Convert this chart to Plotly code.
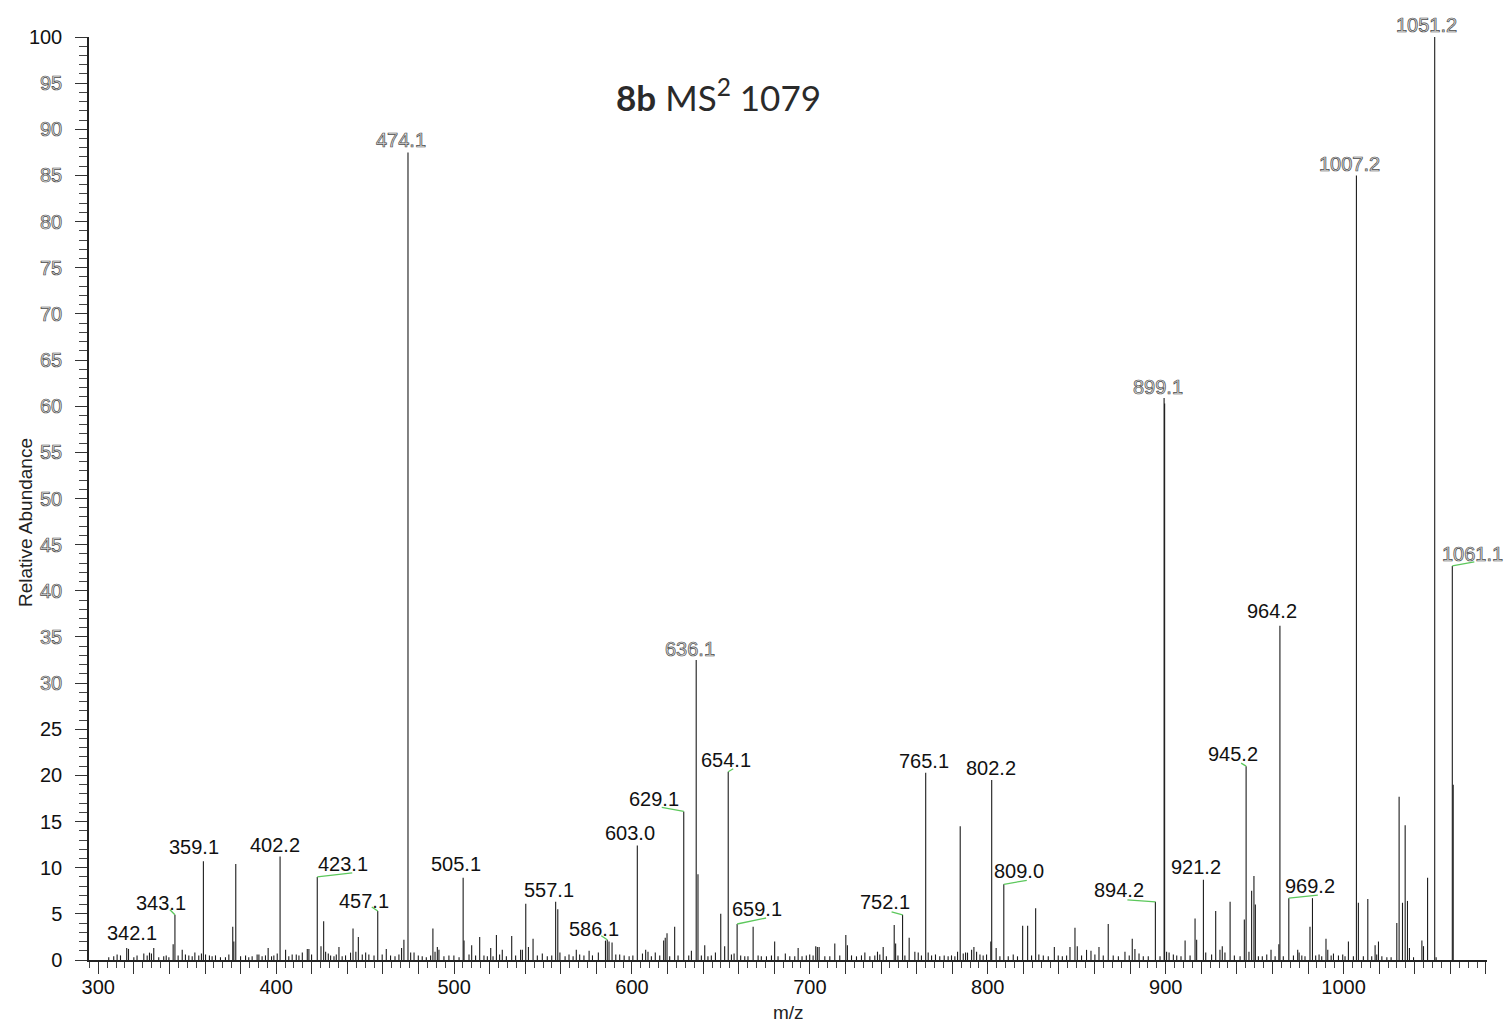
import plotly.graph_objects as go

# ---- spectrum data: MS2 of m/z 1079 (compound 8b) ----
# annotated fragment ions
label_mz = [342.1, 343.1, 359.1, 402.2, 423.1, 457.1, 474.1, 505.1, 557.1, 586.1,
            603.0, 629.1, 636.1, 654.1, 659.1, 752.1, 765.1, 802.2, 809.0, 894.2,
            899.1, 921.2, 945.2, 964.2, 969.2, 1007.2, 1051.2, 1061.1]
label_int = [1.7, 4.9, 10.7, 11.2, 9.0, 5.3, 87.5, 8.9, 6.3, 2.2,
             12.4, 16.1, 32.5, 20.4, 3.9, 4.9, 20.3, 19.5, 8.2, 6.3,
             60.9, 8.7, 21.0, 36.2, 6.7, 85.0, 100.0, 42.7]

# remaining centroided peaks
other_mz = [
    305.9, 308.7, 310.6, 312.5, 316.0, 317.0, 320.0, 321.8, 325.6, 327.5, 328.8, 329.9,
    331.2, 334.0, 336.8, 338.2, 339.7, 344.9, 347.2, 349.0, 350.9, 352.8, 354.3, 356.5,
    358.0, 360.3, 362.5, 364.0, 365.9, 368.7, 371.5, 373.4, 375.6, 376.2, 377.3, 380.0,
    382.8, 384.6, 386.5, 389.3, 390.3, 392.1, 394.0, 395.5, 397.4, 398.7, 400.6, 405.3,
    407.1, 409.0, 411.3, 412.8, 414.7, 417.5, 418.4, 419.9, 425.2, 426.7, 427.8, 429.3,
    430.6, 432.5, 433.8, 435.3, 437.1, 439.0, 441.8, 443.2, 444.8, 446.2, 448.4, 450.3,
    452.1, 455.0,
    459.6, 461.9, 464.3, 466.8, 469.0, 470.5, 471.8, 475.6, 477.5, 479.9, 482.1, 484.4,
    486.8, 488.1, 489.3, 490.6, 491.5, 494.3, 497.1, 499.9, 502.8, 505.6, 508.4, 509.9,
    512.1, 514.4, 516.8, 518.7, 520.6, 521.9, 523.8, 525.6, 527.1, 529.4, 532.4, 534.6,
    537.4, 538.4, 540.3, 541.8, 544.4, 546.8, 549.6, 552.4, 554.9, 558.3, 559.5, 562.4,
    564.6, 566.9, 568.7, 570.6, 573.0, 575.9, 577.8, 581.1, 585.1, 587.1, 588.8, 590.9,
    593.1, 595.6, 598.4, 600.5, 605.9, 607.7,
    609.0, 610.9, 613.1, 615.6, 617.8, 618.7, 619.7, 621.2, 624.0, 625.9, 631.9, 633.4,
    637.1, 639.0, 640.9, 642.7, 644.6, 646.9, 649.9, 652.1, 655.9, 657.4, 661.1, 663.4,
    665.2, 668.1, 670.9, 672.7, 675.6, 678.4, 680.2, 682.1, 686.2, 688.7, 691.5, 693.4,
    695.6, 698.0, 699.9, 701.8, 703.3, 704.2, 705.2, 708.4, 711.2, 714.0, 716.8, 720.2,
    721.1, 723.4, 726.2, 729.0, 730.9, 733.7, 736.5, 738.0, 739.3, 741.2, 743.0, 747.4,
    748.2, 749.5, 753.4, 755.8, 759.0, 760.9, 762.7,
    766.5, 768.4, 770.6, 773.0, 775.5, 777.7, 779.6, 781.5, 783.0, 784.5, 786.2, 787.5,
    788.6, 790.9, 792.2, 793.7, 795.6, 797.4, 799.3, 801.7, 804.7, 806.8, 811.5, 814.3,
    816.7, 819.6, 822.4, 824.6, 826.9, 828.7, 831.2, 834.0, 837.4, 839.6, 841.9, 844.3,
    846.2, 849.0, 850.3, 852.7, 855.5, 858.0, 860.2, 862.5, 864.9, 867.7, 870.5, 873.4,
    877.1, 879.5, 881.2, 882.7, 885.0, 887.4, 890.2, 896.8, 899.4, 900.5, 901.9, 904.3,
    906.2, 908.6, 910.9, 913.7, 916.5, 917.4, 922.5,
    925.8, 928.1, 930.5, 931.8, 933.3, 936.2, 938.6, 941.8, 944.2, 946.8, 948.3, 949.6,
    950.4, 952.1, 954.3, 956.8, 959.2, 961.5, 963.6, 966.1, 971.8, 974.2, 975.0, 976.5,
    978.3, 981.1, 982.5, 984.3, 986.2, 987.7, 990.1, 991.1, 993.0, 994.3, 997.1, 999.5,
    1000.8, 1002.7, 1005.5, 1008.3, 1011.1, 1013.6, 1015.8, 1017.7, 1018.6, 1019.6,
    1021.5, 1024.3, 1026.7, 1029.9, 1031.2, 1033.1, 1034.6, 1035.9, 1037.0, 1039.3,
    1044.0, 1044.9, 1047.2, 1052.0, 1061.6,
]
other_int = [
    0.3, 0.4, 0.6, 0.5, 1.3, 1.2, 0.3, 0.5, 0.7, 0.5, 0.8, 0.7,
    1.3, 0.3, 0.4, 0.5, 0.3, 0.5, 1.1, 0.6, 0.5, 0.4, 0.8, 0.5,
    0.7, 0.6, 0.5, 0.4, 0.5, 0.3, 0.3, 0.6, 3.6, 2.0, 10.4, 0.4,
    0.5, 0.3, 0.4, 0.6, 0.6, 0.4, 0.5, 1.3, 0.4, 0.5, 0.7, 1.1,
    0.4, 0.6, 0.6, 0.5, 0.8, 1.2, 1.2, 0.6, 1.5, 4.2, 0.9, 0.7,
    0.5, 0.4, 0.6, 1.4, 0.4, 0.5, 0.8, 3.4, 0.9, 2.5, 0.6, 0.8,
    0.6, 0.5,
    0.6, 1.2, 0.5, 0.4, 0.6, 1.3, 2.2, 0.8, 0.8, 0.5, 0.4, 0.3,
    0.5, 3.4, 0.9, 1.4, 1.1, 0.4, 0.5, 0.5, 0.3, 2.1, 0.6, 1.6,
    0.5, 2.5, 0.5, 0.4, 1.3, 0.4, 2.7, 0.6, 1.1, 0.4, 2.6, 0.5,
    1.1, 1.1, 6.1, 1.4, 2.3, 0.5, 0.7, 0.4, 0.5, 5.5, 0.8, 0.4,
    0.6, 0.4, 1.1, 0.6, 0.5, 1.0, 0.5, 0.8, 2.1, 2.0, 1.9, 0.6,
    0.6, 0.5, 0.4, 0.5, 0.7, 1.1,
    0.9, 0.4, 0.8, 0.5, 2.1, 2.4, 2.9, 0.4, 3.6, 0.5, 0.5, 1.0,
    9.3, 0.5, 1.6, 0.4, 0.5, 0.8, 5.0, 1.5, 0.6, 0.7, 0.5, 0.4,
    0.4, 3.6, 0.5, 0.4, 0.4, 0.5, 2.0, 0.4, 0.7, 0.4, 0.4, 1.3,
    0.4, 0.5, 0.6, 0.5, 1.5, 1.4, 1.4, 0.4, 0.4, 1.8, 0.5, 2.7,
    1.6, 0.5, 0.4, 0.5, 0.8, 0.4, 0.5, 0.9, 0.6, 1.4, 0.4, 3.8,
    1.8, 0.5, 0.5, 2.4, 0.9, 0.8, 0.5,
    0.8, 0.5, 0.6, 0.4, 0.5, 0.4, 0.5, 0.4, 0.9, 14.5, 0.7, 0.8,
    0.8, 1.1, 1.4, 0.9, 0.6, 0.5, 0.6, 2.0, 1.3, 0.4, 0.4, 0.6,
    0.4, 3.7, 3.7, 0.5, 5.6, 0.6, 0.5, 0.4, 1.4, 0.5, 0.4, 0.5,
    1.4, 3.5, 1.5, 0.5, 1.1, 1.0, 0.6, 1.4, 0.5, 3.9, 0.5, 0.4,
    0.9, 0.5, 2.3, 1.2, 0.7, 0.4, 0.4, 0.4, 60.3, 0.9, 0.8, 0.6,
    0.5, 0.4, 2.1, 0.5, 4.5, 2.2, 0.8,
    0.6, 5.3, 1.1, 1.5, 0.8, 6.3, 0.5, 0.4, 4.4, 0.9, 7.5, 9.1,
    6.0, 0.4, 0.4, 0.6, 1.1, 0.4, 1.7, 0.4, 0.5, 1.1, 0.8, 0.5,
    0.4, 3.6, 6.7, 0.5, 0.6, 0.4, 2.3, 1.1, 0.5, 0.7, 0.5, 0.6,
    0.4, 2.0, 0.4, 6.2, 0.4, 6.6, 0.4, 1.6, 0.6, 2.0,
    0.4, 0.3, 0.3, 4.0, 17.7, 6.2, 14.6, 6.4, 1.3, 0.3,
    2.1, 1.5, 8.9, 0.3, 19.0,
]

# axis ticks
x_tickvals = list(range(300, 1081, 20))
x_ticktext = [str(v) if v % 100 == 0 else "" for v in x_tickvals]
y_tickvals = list(range(0, 101, 5))

# ---- label placement (pixel offsets of the label centre from the peak top,
#      optional green leader line end point, outlined glyph style) ----
label_style = {
    "342.1": dict(dx=-41, dy=11),
    "343.1": dict(dx=-14, dy=12, lead=(-5, 5)),
    "359.1": dict(dx=-9, dy=14),
    "402.2": dict(dx=-5, dy=12),
    "423.1": dict(dx=26, dy=13, lead=(35, 4)),
    "457.1": dict(dx=-14, dy=10, lead=(-6, 4)),
    "474.1": dict(dx=-7, dy=12, outline=True),
    "505.1": dict(dx=-7, dy=14),
    "557.1": dict(dx=-7, dy=12),
    "586.1": dict(dx=-13, dy=11, lead=(-6, 4)),
    "603.0": dict(dx=-7, dy=13),
    "629.1": dict(dx=-30, dy=12, lead=(-22, 4)),
    "636.1": dict(dx=-6, dy=11, outline=True),
    "654.1": dict(dx=-2, dy=12, lead=(5, 3)),
    "659.1": dict(dx=20, dy=15, lead=(29, 6)),
    "752.1": dict(dx=-18, dy=13, lead=(-11, 3)),
    "765.1": dict(dx=-2, dy=12),
    "802.2": dict(dx=-1, dy=12),
    "809.0": dict(dx=15, dy=13, lead=(23, 4)),
    "894.2": dict(dx=-36, dy=12, lead=(-28, 2)),
    "899.1": dict(dx=-6, dy=11, outline=True),
    "921.2": dict(dx=-7, dy=13),
    "945.2": dict(dx=-13, dy=12, lead=(-5, 3)),
    "964.2": dict(dx=-8, dy=15),
    "969.2": dict(dx=21, dy=12, lead=(29, 3)),
    "1007.2": dict(dx=-7, dy=11, outline=True),
    "1051.2": dict(dx=-8, dy=12, outline=True),
    "1061.1": dict(dx=20, dy=12, lead=(22, 4), outline=True),
}

FONT = "Liberation Sans, Arial, sans-serif"
OUTLINE = "fill:#e4e4e4;stroke:#4a4a4a;stroke-width:0.7px"


def outlined(s):
    return f'<span style="{OUTLINE}">{s}</span>'


# stick spectrum built from all peaks
xs, ys = [], []
for m, h in zip(other_mz + label_mz, other_int + label_int):
    xs += [m, m, None]
    ys += [0, h, None]

fig = go.Figure()
fig.add_trace(go.Scatter(
    x=xs, y=ys, mode="lines",
    line=dict(color="#1c1c1c", width=1.1),
    hoverinfo="skip", showlegend=False,
))

annotations = []
shapes = []
for m, h in zip(label_mz, label_int):
    key = f"{m:.1f}"
    st = label_style[key]
    txt = outlined(key) if st.get("outline") else key
    annotations.append(dict(
        x=m, y=h, xref="x", yref="y", text=txt, showarrow=False,
        xanchor="center", yanchor="middle",
        xshift=st["dx"], yshift=st["dy"],
        font=dict(family=FONT, size=20, color="#111111"),
    ))
    if "lead" in st:
        lx, ly = st["lead"]
        shapes.append(dict(
            type="line", xref="x", yref="y",
            xsizemode="pixel", ysizemode="pixel",
            xanchor=m, yanchor=h, x0=0, y0=0, x1=lx, y1=ly,
            line=dict(color="#5cc85c", width=1.3),
        ))

# chart title
annotations.append(dict(
    x=0.4506, y=0.937, xref="paper", yref="paper", showarrow=False,
    text="<b>8b</b> MS<sup>2</sup> 1079",
    font=dict(family="Lato, Open Sans, sans-serif", size=35, color="#2a2a2a"),
    xanchor="center", yanchor="middle",
))
# y-axis title
annotations.append(dict(
    x=-0.0458, y=0.4745, xref="paper", yref="paper", showarrow=False,
    text="Relative Abundance", textangle=-90,
    font=dict(family=FONT, size=19, color="#222222"),
    xanchor="center", yanchor="middle",
))
# x-axis title
annotations.append(dict(
    x=0.5, y=-0.0574, xref="paper", yref="paper", showarrow=False,
    text="m/z",
    font=dict(family=FONT, size=19, color="#222222"),
    xanchor="center", yanchor="middle",
))

y_ticktext = [str(v) if v in (0, 100) or v <= 25 else outlined(str(v)) for v in y_tickvals]

fig.update_layout(
    width=1504, height=1027,
    margin=dict(l=89, r=17, t=37, b=67),
    paper_bgcolor="white", plot_bgcolor="white",
    annotations=annotations, shapes=shapes,
    xaxis=dict(
        range=[294.8, 1080.6], automargin=False,
        tickmode="array", tickvals=x_tickvals, ticktext=x_ticktext,
        ticks="outside", ticklen=12, tickwidth=1.3, tickcolor="#333333",
        minor=dict(tick0=300, dtick=5, ticks="outside", ticklen=6,
                   tickwidth=1, tickcolor="#444444"),
        showline=True, linecolor="#222222", linewidth=1.5,
        showgrid=False, zeroline=False,
        tickfont=dict(family=FONT, size=20, color="#111111"),
        ticklabelstandoff=-4,
    ),
    yaxis=dict(
        range=[0, 100], automargin=False,
        tickmode="array", tickvals=y_tickvals, ticktext=y_ticktext,
        ticks="outside", ticklen=12, tickwidth=1.3, tickcolor="#333333",
        minor=dict(tick0=0, dtick=1, ticks="outside", ticklen=8,
                   tickwidth=1, tickcolor="#444444"),
        showline=True, linecolor="#222222", linewidth=1.5,
        showgrid=False, zeroline=False,
        tickfont=dict(family=FONT, size=20, color="#111111"),
        ticklabelstandoff=9,
    ),
)

fig.write_html("out.html")
